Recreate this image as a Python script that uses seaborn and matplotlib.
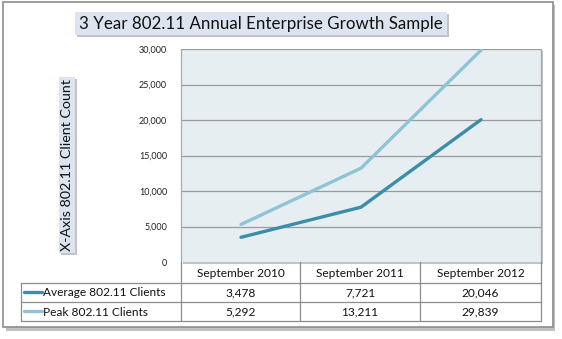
import matplotlib
matplotlib.use("Agg")
import matplotlib.pyplot as plt
import matplotlib.patheffects as pe
from matplotlib.patches import Rectangle
from matplotlib.lines import Line2D
import seaborn as sns
import pandas as pd

# ---- data ----
periods = ["September 2010", "September 2011", "September 2012"]
series_names = ["Average 802.11 Clients", "Peak 802.11 Clients"]
average_clients = [3478, 7721, 20046]
peak_clients = [5292, 13211, 29839]
y_ticks = [0, 5000, 10000, 15000, 20000, 25000, 30000]
title = "3 Year 802.11 Annual Enterprise Growth Sample"
y_label = "X-Axis 802.11 Client Count"

colors = ["#3a8ea8", "#8fc3d5"]

sns.set_theme(style="white")
plt.rcParams["font.family"] = ["Lato", "DejaVu Sans"]

W, H = 562, 339
fig = plt.figure(figsize=(W / 100, H / 100), dpi=100)
fig.patch.set_facecolor("white")


def fx(px):
    return px / W


def fy(py):
    return 1 - py / H


shadow = [pe.withSimplePatchShadow(offset=(1.5, -1.5), shadow_rgbFace="#888888", alpha=0.5),
          pe.Normal()]

# outer frame with drop shadow
fig.patches.append(Rectangle((fx(6), fy(331)), fx(552 - 3), (331 - 5) / H,
                             transform=fig.transFigure, facecolor="#9a9a9a",
                             edgecolor="none", alpha=0.6, zorder=0))
fig.patches.append(Rectangle((fx(3), fy(327)), fx(550), (327 - 2) / H,
                             transform=fig.transFigure, facecolor="white",
                             edgecolor="#8c8c8c", linewidth=1.2, zorder=0.5))

# plot area
left, right, top, bottom = 181, 541, 49, 262
ax = fig.add_axes([fx(left), fy(bottom), fx(right - left), (bottom - top) / H])
ax.set_zorder(2)
ax.set_facecolor("#e6eef2")
ax.patch.set_path_effects(shadow)

df = pd.DataFrame({
    "pos": list(range(len(periods))) * 2,
    "clients": average_clients + peak_clients,
    "series": [series_names[0]] * len(periods) + [series_names[1]] * len(periods),
})
sns.lineplot(data=df, x="pos", y="clients", hue="series", palette=colors,
             linewidth=2.4, legend=False, ax=ax, zorder=3)
for ln in ax.lines:
    ln.set_solid_capstyle("round")

ax.set_xlim(-0.5, len(periods) - 0.5)
ax.set_ylim(0, 30000)
ax.set_yticks(y_ticks)
ax.set_yticklabels([f"{v:,}" for v in y_ticks], fontsize=6.5, color="#222222")
ax.set_xticks([])
ax.set_xlabel("")
ax.set_ylabel("")
ax.tick_params(axis="y", length=0, pad=10)
for v in y_ticks[1:]:
    ax.axhline(v, color="#9a9a9a", linewidth=0.9, zorder=1)
for s in ["top", "bottom"]:
    ax.spines[s].set_visible(False)
for s in ["left", "right"]:
    ax.spines[s].set_color("#a8a8a8")
    ax.spines[s].set_linewidth(0.9)

# data table under the plot
col_edges = [181, 300, 420, 541]
row_edges = [262, 283, 302, 321]
table_left = 21
line_kw = dict(transform=fig.transFigure, color="#8c8c8c", linewidth=0.9, zorder=3)

# vertical column separators
for x in col_edges:
    fig.add_artist(Line2D([fx(x), fx(x)], [fy(row_edges[0]), fy(row_edges[-1])], **line_kw))
fig.add_artist(Line2D([fx(table_left), fx(table_left)], [fy(row_edges[1]), fy(row_edges[-1])], **line_kw))
# horizontal row separators
for y in row_edges[1:]:
    fig.add_artist(Line2D([fx(table_left), fx(col_edges[-1])], [fy(y), fy(y)], **line_kw))

font_cell = dict(fontsize=8.6, color="#111111", ha="center", va="center", zorder=3)
for i, p in enumerate(periods):
    cx = (col_edges[i] + col_edges[i + 1]) / 2
    fig.text(fx(cx), fy((row_edges[0] + row_edges[1]) / 2 + 1), p, **font_cell)
rows = [average_clients, peak_clients]
for r, (name, vals) in enumerate(zip(series_names, rows)):
    cy = (row_edges[r + 1] + row_edges[r + 2]) / 2 + 0.5
    fig.add_artist(Line2D([fx(24), fx(42)], [fy(cy - 1), fy(cy - 1)],
                          transform=fig.transFigure, color=colors[r],
                          linewidth=2.4, solid_capstyle="round", zorder=3))
    fig.text(fx(43), fy(cy), name, fontsize=8.6, color="#111111", ha="left",
             va="center", zorder=3)
    for i, v in enumerate(vals):
        cx = (col_edges[i] + col_edges[i + 1]) / 2
        fig.text(fx(cx), fy(cy), f"{v:,}", **font_cell)

# title in a shaded box
t = fig.text(fx(261), fy(23.5), title, fontsize=12.2, color="#111111", ha="center",
             va="center", zorder=3,
             bbox=dict(boxstyle="square,pad=0.22", facecolor="#dce5ef", edgecolor="none"))
t.get_bbox_patch().set_path_effects(shadow)

# rotated axis label in a shaded box
yl = fig.text(fx(67), fy(165), y_label, fontsize=10.3, color="#111111", rotation=90,
              ha="center", va="center", zorder=3,
              bbox=dict(boxstyle="square,pad=0.15", facecolor="#dce5ef", edgecolor="none"))
yl.get_bbox_patch().set_path_effects(shadow)

fig.savefig("out.png", dpi=100)
